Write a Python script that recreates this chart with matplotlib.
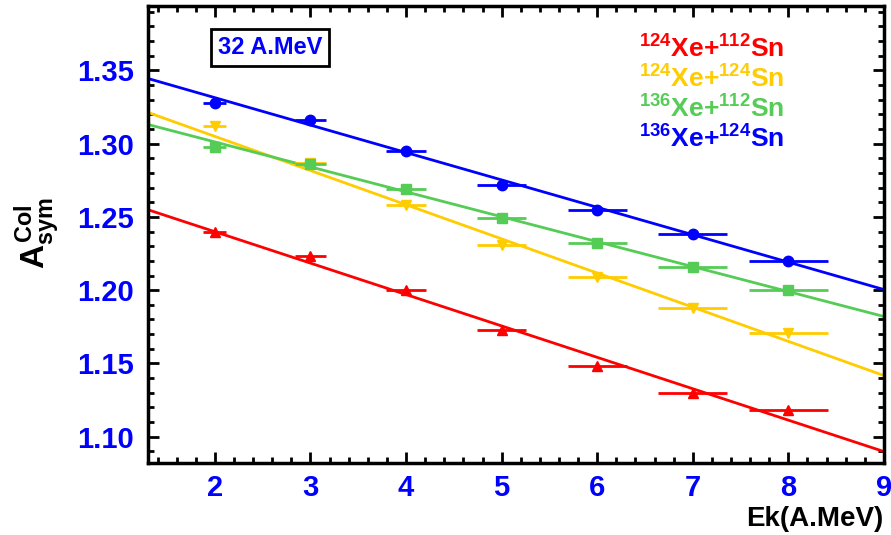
import numpy as np
import matplotlib.pyplot as plt

plt.rcParams['font.family'] = ['Liberation Sans', 'DejaVu Sans']
plt.rcParams['font.weight'] = 'bold'
plt.rcParams['mathtext.fontset'] = 'custom'
plt.rcParams['mathtext.rm'] = 'Liberation Sans:bold'
plt.rcParams['mathtext.it'] = 'Liberation Sans:bold'
plt.rcParams['mathtext.bf'] = 'Liberation Sans:bold'

# data
ek = [2, 3, 4, 5, 6, 7, 8]
ek_err = [0.12, 0.16, 0.21, 0.26, 0.31, 0.36, 0.41]

asym_124_112 = [1.240, 1.223, 1.200, 1.173, 1.148, 1.130, 1.118]
asym_124_124 = [1.312, 1.287, 1.258, 1.231, 1.209, 1.188, 1.171]
asym_136_112 = [1.298, 1.286, 1.269, 1.249, 1.232, 1.216, 1.200]
asym_136_124 = [1.328, 1.316, 1.295, 1.272, 1.255, 1.238, 1.220]

# fit lines: value at Ek=1.3 and Ek=9.0
fit_x = [1.3, 9.0]
fit_124_112 = [1.2549, 1.0898]
fit_124_124 = [1.3213, 1.1417]
fit_136_112 = [1.3131, 1.1820]
fit_136_124 = [1.3445, 1.2004]

labels = [r'$^{124}$Xe+$^{112}$Sn', r'$^{124}$Xe+$^{124}$Sn',
          r'$^{136}$Xe+$^{112}$Sn', r'$^{136}$Xe+$^{124}$Sn']
colors = ['#ff0000', '#ffcc00', '#55cc55', '#0000ff']
markers = ['^', 'v', 's', 'o']
series = [asym_124_112, asym_124_124, asym_136_112, asym_136_124]
fits = [fit_124_112, fit_124_124, fit_136_112, fit_136_124]

fig = plt.figure(figsize=(8.91, 5.35), dpi=100)
ax = fig.add_axes([0.1661, 0.1346, 0.8260, 0.8542])

for y, f, c, m in zip(series, fits, colors, markers):
    ax.plot(fit_x, f, color=c, lw=2, zorder=2)
    ax.errorbar(ek, y, xerr=ek_err, fmt=m, color=c, ms=7.5, elinewidth=2,
                capsize=0, zorder=3)

ax.set_xlim(1.3, 9.0)
ax.set_ylim(1.082, 1.394)
ax.set_xticks([2, 3, 4, 5, 6, 7, 8, 9])
ax.set_yticks([1.10, 1.15, 1.20, 1.25, 1.30, 1.35])
ax.set_yticklabels(['1.10', '1.15', '1.20', '1.25', '1.30', '1.35'])
ax.set_xticks(np.arange(1.4, 9.01, 0.2), minor=True)
ax.set_yticks(np.arange(1.09, 1.391, 0.01), minor=True)

ax.tick_params(which='both', direction='in', top=True, right=True, width=2)
ax.tick_params(which='major', length=8)
ax.tick_params(which='minor', length=4)
ax.tick_params(axis='y', labelsize=21, labelcolor='#0000ff', pad=10)
ax.tick_params(axis='x', labelsize=21, labelcolor='#0000ff', pad=8)
for lab in ax.get_xticklabels() + ax.get_yticklabels():
    lab.set_fontweight('bold')
for sp in ax.spines.values():
    sp.set_linewidth(2.5)

fig.text(0.992, 0.006, 'Ek(A.MeV)', ha='right', va='bottom', fontsize=20,
         fontweight='bold')
fig.text(0.042, 0.564, r'$A^{Col}_{sym}$', rotation=90, ha='center',
         va='center', fontsize=24)

ax.text(0.166, 0.910, '32 A.MeV', transform=ax.transAxes, ha='center',
        va='center', fontsize=17, fontweight='bold', color='#0000ff',
        bbox=dict(boxstyle='square,pad=0.3', fc='white', ec='black', lw=2))

for i, (lab, c) in enumerate(zip(labels, colors)):
    ax.text(0.766, 0.906 - i * 0.066, lab, transform=ax.transAxes,
            ha='center', va='center', fontsize=19, color=c)

fig.savefig('out.png', dpi=100)
